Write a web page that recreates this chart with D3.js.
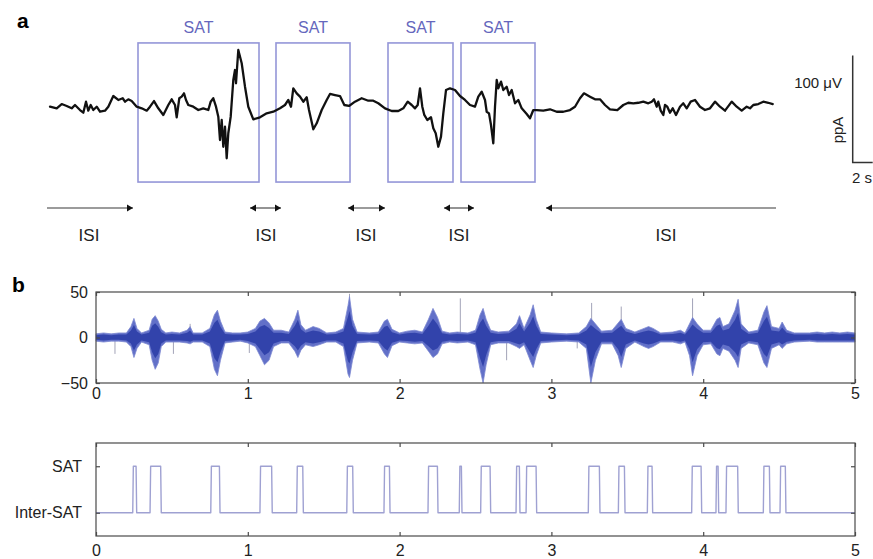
<!DOCTYPE html>
<html>
<head>
<meta charset="utf-8">
<script src="https://cdn.jsdelivr.net/npm/d3@7"></script>
<style>
  body { margin: 0; background: #fff; }
  svg { display: block; font-family: "Liberation Sans", Arial, sans-serif; }
</style>
</head>
<body>
<script>
// ---- panel a : raw trace, [time s, amplitude uV]
var traceA = [
  [0.3,-1.6],[0.97,-3.1],[1.47,0.9],[1.97,-0.9],[2.47,-3.1],[2.8,0],[3.3,-4.7],[3.63,-7.2],[3.9,3.1],[4.13,-5.3],
  [4.37,0],[4.63,-4.7],[4.97,-1.6],[5.3,-6.3],[5.8,-5.3],[6.13,-1.6],[6.63,8.4],[7.13,4.7],[7.57,6.3],[7.8,3.1],
  [8.13,5.3],[8.47,3.7],[8.97,-1.6],[9.47,-3.1],[9.97,-5.3],[10.3,-1.6],[10.7,3.7],[11.13,-3.1],[11.63,-9.3],[12.13,0],
  [12.47,5.3],[12.8,0],[12.97,-11.5],[13.23,6.3],[13.47,7.8],[13.7,10.9],[13.9,4.7],[14.13,0],[14.63,-1.6],[15.13,-4.7],
  [15.63,-3.1],[16.13,-4.7],[16.37,3.1],[16.63,6.3],[16.9,-1.6],[17.13,-10.9],[17.3,-32.7],[17.47,-14],[17.63,-39],[17.8,-20.3],
  [17.97,-49.8],[18.13,-26.4],[18.37,-10.9],[18.63,23.4],[18.8,32.7],[18.9,20.3],[19.13,51.4],[19.47,39],[19.8,17.1],[20.13,-1.6],
  [20.63,-13.4],[21.3,-11.5],[21.97,-7.8],[22.63,-6.3],[23.3,-3.1],[23.8,0],[24.13,4.7],[24.4,-1.6],[24.63,15.6],[24.97,10.9],
  [25.3,7.8],[25.63,3.1],[25.97,7.2],[26.2,-4.7],[26.63,-22.7],[26.97,-17.1],[27.47,-4.7],[27.97,4.7],[28.3,10.3],[28.8,9.3],
  [29.3,8.4],[29.73,0],[30.2,-0.9],[30.8,3.1],[31.47,6.3],[32.13,4],[32.63,4],[33.13,1.6],[33.8,-3.1],[34.47,-5.6],
  [35.13,-5.6],[35.63,-3.1],[36.07,3.1],[36.47,0],[36.8,-3.1],[37.07,0],[37.3,15.6],[37.53,-1.6],[37.73,-9.3],[38.03,-14],
  [38.4,-11.5],[38.63,-21.8],[38.87,-26.4],[39.13,-39],[39.4,-29.6],[39.63,-7.8],[39.9,14],[40.3,15.6],[40.8,14],[41.3,8.4],
  [41.8,4.7],[42.3,0],[42.8,-1.6],[43.13,7.8],[43.47,12.4],[43.8,4.7],[43.97,-6.3],[44.2,-7.8],[44.4,-18.7],[44.63,-35.8],
  [44.8,-1.6],[44.97,23.4],[45.13,15.6],[45.4,21.8],[45.63,14],[45.97,17.1],[46.2,9.3],[46.47,14],[46.8,1.6],[47.13,4.7],
  [47.47,-3.1],[47.97,-8.4],[48.3,-12.4],[48.63,-4.7],[48.97,-4.7],[49.63,-5.3],[50.3,-4],[50.97,-6.3],[51.63,-6.3],[52.3,-4.7],
  [52.8,-1.6],[53.3,6.3],[53.7,10.9],[54.3,7.8],[54.8,5.3],[55.3,5.3],[55.8,0],[56.3,-4],[57.03,-4.7],[57.63,0],
  [58.13,2.1],[58.63,1.6],[59.13,2.1],[59.63,3.1],[60.13,1.6],[60.47,3.1],[60.7,5.3],[60.97,-1.6],[61.13,3.1],[61.37,-5.3],
  [61.63,-9.3],[61.8,0],[62.03,-1.6],[62.3,-7.2],[62.57,-3.1],[62.9,-9.3],[63.3,-1.6],[63.63,1.6],[63.97,-3.1],[64.37,3.1],
  [64.8,4.7],[65.3,-1.6],[65.8,-4.7],[66.3,-3.1],[66.8,3.1],[67.3,-1.6],[67.8,-5.3],[68.47,3.1],[68.97,-1.6],[69.47,-5.3],
  [69.97,-1.6],[70.3,-3.1],[70.63,0],[71.13,0.9],[71.63,3.1],[72.13,2.1],[72.57,0.9]
];
// SAT windows [start s, end s]
var satBoxes = [[9.1, 21.2], [22.9, 30.3], [34.1, 40.6], [41.4, 48.8]];
// ISI arrows [start s, end s, heads]
var isiArrows = [[0, 8.6, 'end'], [20.3, 23.4, 'both'], [30.1, 33.8, 'both'], [39.7, 42.7, 'both'], [49.9, 72.9, 'start']];
var isiLabelAt = [4.2, 21.9, 31.9, 41.2, 61.9];

// ---- panel b : envelope of filtered signal [time s, upper, lower]
var envelope = [
  [0.00,4,-4],[0.05,5,-5],[0.10,4,-4],[0.15,5,-4],[0.20,5,-5],[0.23,12,-10],[0.25,21,-22],[0.27,10,-12],[0.30,5,-5],[0.35,8,-8],
  [0.37,20,-25],[0.39,24,-35],[0.41,18,-28],[0.43,9,-10],[0.46,5,-5],[0.50,6,-5],[0.55,5,-5],[0.60,8,-6],[0.62,12,-7],[0.64,5,-5],
  [0.70,5,-5],[0.75,10,-10],[0.78,25,-35],[0.80,30,-42],[0.82,18,-25],[0.85,6,-6],[0.90,5,-5],[0.95,5,-4],[1.00,6,-6],[1.05,10,-10],
  [1.08,18,-20],[1.11,21,-30],[1.14,16,-25],[1.17,8,-10],[1.22,8,-6],[1.27,6,-6],[1.31,20,-15],[1.33,30,-22],[1.35,14,-14],[1.38,8,-8],
  [1.43,12,-10],[1.47,10,-8],[1.52,5,-5],[1.58,6,-5],[1.63,10,-10],[1.66,35,-40],[1.67,45,-44],[1.69,20,-25],[1.72,6,-6],[1.80,5,-5],
  [1.86,6,-6],[1.90,18,-18],[1.92,20,-22],[1.95,9,-9],[2.00,5,-5],[2.05,7,-6],[2.10,8,-7],[2.15,6,-6],[2.19,20,-15],[2.22,32,-22],
  [2.25,22,-18],[2.28,7,-7],[2.33,5,-5],[2.38,6,-6],[2.45,5,-5],[2.50,8,-8],[2.53,25,-35],[2.55,32,-50],[2.57,20,-30],[2.60,8,-8],
  [2.65,6,-6],[2.72,7,-6],[2.77,15,-10],[2.79,24,-12],[2.82,10,-8],[2.86,25,-25],[2.88,36,-33],[2.90,20,-20],[2.93,6,-6],[3.00,5,-5],
  [3.10,4,-4],[3.18,5,-5],[3.23,12,-12],[3.26,21,-50],[3.29,15,-25],[3.33,7,-7],[3.40,8,-7],[3.44,16,-20],[3.46,20,-33],[3.49,10,-12],
  [3.55,6,-5],[3.61,10,-10],[3.64,12,-12],[3.67,10,-10],[3.72,5,-5],[3.80,6,-5],[3.85,8,-7],[3.88,5,-5],[3.91,15,-20],[3.93,22,-42],
  [3.96,15,-20],[4.00,8,-8],[4.05,8,-7],[4.09,20,-18],[4.11,22,-20],[4.13,12,-12],[4.17,15,-15],[4.21,30,-25],[4.23,42,-33],[4.25,15,-12],
  [4.30,6,-6],[4.36,8,-8],[4.40,28,-28],[4.42,35,-33],[4.45,12,-12],[4.50,10,-8],[4.52,17,-12],[4.55,8,-7],[4.60,5,-5],[4.70,5,-4],
  [4.75,6,-5],[4.80,5,-5],[4.85,6,-5],[4.90,5,-5],[4.95,6,-5],[5.00,5,-5]
];
// isolated grey spikes [time s, top, bottom]
var spikes = [[0.125,0,-18],[0.51,0,-18],[0.62,15,0],[1.01,0,-17],[1.67,48,0],[2.40,43,0],[2.705,0,-25],[3.17,0,-12],[3.265,38,0],[3.46,34,0],[3.93,43,0]];
// SAT detection [start s, end s]
var satPulses = [
  [0.242,0.268],[0.356,0.430],[0.756,0.817],[1.080,1.161],[1.322,1.366],[1.652,1.695],[1.897,1.937],[2.187,2.253],[2.393,2.411],[2.534,2.600],
  [2.767,2.793],[2.833,2.903],[3.243,3.320],[3.441,3.485],[3.632,3.667],[3.924,3.990],[4.084,4.102],[4.150,4.231],[4.396,4.440],[4.506,4.545]
];
var xTicks = [0, 1, 2, 3, 4, 5];
var ampTicks = [50, 0, -50];
var stateTicks = [0, 1];
var stateNames = ['Inter-SAT', 'SAT'];

var W = 873, H = 559;
var svg = d3.select('body').append('svg').attr('width', W).attr('height', H);

// ================= panel a =================
var xA = d3.scaleLinear().domain([0, 80]).range([47, 847]);
var yA = d3.scaleLinear().domain([-100, 100]).range([212, -2]);

svg.append('text').attr('x', 17).attr('y', 28)
  .attr('font-size', 21).attr('font-weight', 'bold').text('a');

// SAT boxes
var boxTop = 58, boxBottom = -72;
svg.append('g').selectAll('rect').data(satBoxes).enter().append('rect')
  .attr('x', function(d) { return xA(d[0]); })
  .attr('width', function(d) { return xA(d[1]) - xA(d[0]); })
  .attr('y', yA(boxTop))
  .attr('height', yA(boxBottom) - yA(boxTop))
  .attr('fill', 'none').attr('stroke', '#9496d8').attr('stroke-width', 1.6);

svg.append('g').selectAll('text').data(satBoxes).enter().append('text')
  .attr('x', function(d) { return (xA(d[0]) + xA(d[1])) / 2; })
  .attr('y', 33)
  .attr('text-anchor', 'middle').attr('font-size', 16).attr('fill', '#6567bd')
  .text('SAT');

// trace
svg.append('path').datum(traceA)
  .attr('d', d3.line().x(function(d) { return xA(d[0]); }).y(function(d) { return yA(d[1]); }))
  .attr('fill', 'none').attr('stroke', '#111').attr('stroke-width', 2.3)
  .attr('stroke-linejoin', 'round').attr('stroke-linecap', 'round');

// scale bar
var barT = 80.57, barV = -53.7;
var bar = svg.append('g').attr('stroke', '#333').attr('stroke-width', 1.5).attr('fill', 'none');
bar.append('path').attr('d', 'M' + xA(barT) + ',' + yA(barV + 100) + 'V' + yA(barV) + 'H' + xA(barT + 2));
svg.append('text').attr('x', 842).attr('y', 88).attr('text-anchor', 'end')
  .attr('font-size', 15).attr('fill', '#222').text('100 \u03bcV');
svg.append('text').attr('transform', 'translate(843,130) rotate(-90)')
  .attr('text-anchor', 'middle').attr('font-size', 15).attr('fill', '#222').text('ppA');
svg.append('text').attr('x', 852).attr('y', 183)
  .attr('font-size', 15).attr('fill', '#222').text('2 s');

// ISI arrows
var arrowY = 208;
var arrows = svg.append('g');
isiArrows.forEach(function(a) {
  var x0 = xA(a[0]), x1 = xA(a[1]);
  arrows.append('line').attr('x1', x0).attr('x2', x1).attr('y1', arrowY).attr('y2', arrowY)
    .attr('stroke', '#7a7a7a').attr('stroke-width', 1.6);
  if (a[2] === 'end' || a[2] === 'both')
    arrows.append('path').attr('d', 'M' + x1 + ',' + arrowY + 'l-6,-3.5v7z').attr('fill', '#111');
  if (a[2] === 'start' || a[2] === 'both')
    arrows.append('path').attr('d', 'M' + x0 + ',' + arrowY + 'l6,-3.5v7z').attr('fill', '#111');
});
svg.append('g').selectAll('text').data(isiLabelAt).enter().append('text')
  .attr('x', function(d) { return xA(d); }).attr('y', 241)
  .attr('text-anchor', 'middle').attr('font-size', 17).attr('fill', '#222')
  .text('ISI');

// ================= panel b =================
svg.append('text').attr('x', 12).attr('y', 292)
  .attr('font-size', 21).attr('font-weight', 'bold').text('b');

var x = d3.scaleLinear().domain([0, 5]).range([96, 855]);
var y1 = d3.scaleLinear().domain([-50, 50]).range([383, 292]);
var y2 = d3.scaleLinear().domain([-0.5, 1.5]).range([536, 443]);

function frame(y, ticksY, fmtY, padX, padY) {
  var g = svg.append('g');
  g.append('rect').attr('x', x(0)).attr('y', y.range()[1])
    .attr('width', x(5) - x(0)).attr('height', y.range()[0] - y.range()[1])
    .attr('fill', 'none').attr('stroke', '#4a4a4a').attr('stroke-width', 1.2);
  g.append('g').attr('transform', 'translate(0,' + y.range()[0] + ')')
    .call(d3.axisBottom(x).tickValues(xTicks).tickSize(-4).tickPadding(padX).tickFormat(d3.format('d')));
  g.append('g').attr('transform', 'translate(0,' + y.range()[1] + ')')
    .call(d3.axisTop(x).tickValues(xTicks).tickSize(-4).tickFormat(''));
  g.append('g').attr('transform', 'translate(' + x(0) + ',0)')
    .call(d3.axisLeft(y).tickValues(ticksY).tickSize(-4).tickPadding(padY).tickFormat(fmtY));
  g.append('g').attr('transform', 'translate(' + x(5) + ',0)')
    .call(d3.axisRight(y).tickValues(ticksY).tickSize(-4).tickFormat(''));
  g.selectAll('.domain').remove();
  g.selectAll('.tick line').attr('stroke', '#4a4a4a').attr('stroke-width', 1.2);
  g.selectAll('.tick text').attr('font-size', 16).attr('fill', '#222')
    .attr('font-family', '"Liberation Sans", Arial, sans-serif');
  return g;
}

// top: filtered signal
svg.append('g').selectAll('line').data(spikes).enter().append('line')
  .attr('x1', function(d) { return x(d[0]); }).attr('x2', function(d) { return x(d[0]); })
  .attr('y1', function(d) { return y1(d[1]); }).attr('y2', function(d) { return y1(d[2]); })
  .attr('stroke', '#a2a3b8').attr('stroke-width', 1);

// outer fringe, then denser core
svg.append('path').datum(envelope)
  .attr('d', d3.area().x(function(d) { return x(d[0]); })
    .y0(function(d) { return y1(d[2]); }).y1(function(d) { return y1(d[1]); }))
  .attr('fill', '#6270c8').attr('stroke', '#7d89d2').attr('stroke-width', 0.8);
svg.append('path').datum(envelope)
  .attr('d', d3.area().x(function(d) { return x(d[0]); })
    .y0(function(d) { return y1(d[2] * 0.65); }).y1(function(d) { return y1(d[1] * 0.65); }))
  .attr('fill', '#3243ab');

frame(y1, ampTicks, function(d) { return d < 0 ? '\u2212' + Math.abs(d) : d; }, 5, 8);

// bottom: SAT / inter-SAT state
var stepPts = [[0, 0]];
satPulses.forEach(function(p) {
  stepPts.push([p[0], 0], [p[0] + 0.004, 1], [p[1] - 0.004, 1], [p[1], 0]);
});
stepPts.push([5, 0]);
svg.append('path').datum(stepPts)
  .attr('d', d3.line().x(function(d) { return x(d[0]); }).y(function(d) { return y2(d[1]); }))
  .attr('fill', 'none').attr('stroke', '#9fa1d2').attr('stroke-width', 1.4)
  .attr('stroke-linejoin', 'round');

frame(y2, stateTicks, function(d) { return stateNames[d]; }, 9, 14);
</script>
</body>
</html>
